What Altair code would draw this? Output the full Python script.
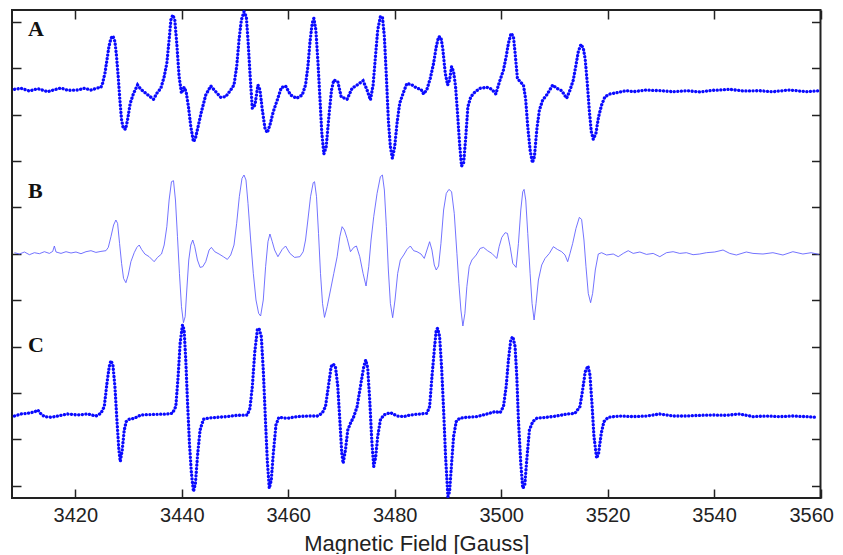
import altair as alt
import pandas as pd

# ---- data (field in Gauss, signal in arbitrary units relative to each baseline)
A_FIELD = [3408.56, 3409.81, 3411.37, 3412.94, 3414.81, 3416.37, 3417.31, 3418.56, 3420.44, 3421.69, 3422.94, 3424.19, 3424.81,
           3425.12, 3425.56, 3425.94, 3426.31, 3426.69, 3427.06, 3427.44, 3427.75, 3428.06, 3428.37, 3428.69, 3429.0, 3429.44,
           3429.81, 3430.31, 3430.94, 3431.69, 3432.31, 3433.25, 3434.06, 3434.69, 3435.31, 3436.06, 3436.69, 3437.19, 3437.62,
           3437.94, 3438.31, 3438.69, 3439.06, 3439.5, 3439.94, 3440.44, 3440.81, 3441.25, 3441.69, 3442.19, 3442.56, 3443.06,
           3443.69, 3444.5, 3445.44, 3446.38, 3447.31, 3448.25, 3449.19, 3449.81, 3450.31, 3450.75, 3451.19, 3451.69, 3452.13,
           3452.44, 3452.81, 3453.25, 3453.75, 3454.31, 3454.69, 3455.13, 3455.63, 3456.06, 3456.56, 3457.19, 3457.94, 3458.69,
           3459.5, 3460.44, 3461.56, 3462.63, 3463.25, 3463.69, 3464.06, 3464.5, 3464.81, 3465.19, 3465.56, 3465.94, 3466.31,
           3466.69, 3467.13, 3467.63, 3468.13, 3468.56, 3469.31, 3469.94, 3471.06, 3472.0, 3472.94, 3474.06, 3474.81, 3475.44,
           3475.94, 3476.38, 3476.81, 3477.31, 3477.69, 3478.06, 3478.44, 3478.81, 3479.19, 3479.56, 3480.0, 3480.44, 3480.94,
           3481.69, 3482.31, 3483.25, 3484.19, 3484.94, 3485.44, 3486.06, 3486.69, 3487.31, 3487.81, 3488.25, 3488.69, 3489.06,
           3489.5, 3489.94, 3490.31, 3490.69, 3491.06, 3491.44, 3491.81, 3492.19, 3492.56, 3492.94, 3493.31, 3493.75, 3494.31,
           3495.12, 3496.06, 3497.31, 3498.25, 3499.0, 3499.69, 3500.44, 3500.94, 3501.37, 3501.87, 3502.31, 3502.69, 3503.06,
           3503.56, 3504.19, 3504.62, 3505.0, 3505.44, 3505.87, 3506.25, 3506.69, 3507.19, 3507.81, 3508.56, 3509.69, 3510.44,
           3511.37, 3512.31, 3512.94, 3513.56, 3514.06, 3514.5, 3515.0, 3515.44, 3515.81, 3516.19, 3516.56, 3516.94, 3517.31,
           3517.81, 3518.31, 3518.87, 3519.5, 3520.44, 3521.69, 3523.56, 3524.81, 3527.31, 3529.81, 3532.31, 3534.81, 3537.31,
           3539.81, 3542.94, 3545.44, 3548.56, 3551.06, 3554.19, 3557.31, 3559.69]
A_SIGNAL = [0.7, 1.7, -1, 1.3, -1.7, 0.7, 2, -0.3, 0, 1.7, 0, 2, 2.7,
            6.7, 16.7, 30, 43.3, 51.7, 54, 48.3, 33.3, 13.3, -10, -30, -38.3, -39.3,
            -30, -13.3, -3.3, 5, 0.7, -3.3, -6.7, -9.3, -3.3, 1.7, 13.3, 26.7, 50,
            70, 75, 70, 46.7, 13.3, -3.3, 2.7, -1.7, -16.7, -36.7, -51.7, -48.3, -36.7,
            -21.7, -5, 4, -1.7, -7.3, -6.7, 0, 5, 23.3, 50, 70, 78.3, 73.3,
            50, 16.7, -18.3, -15, 5, 0, -20, -38.3, -42.7, -35, -21.7, -10, 2.3,
            4, -5, -8.3, -5, 5, 23.3, 46.7, 66.7, 71.7, 60, 30, -6.7, -43.3,
            -64, -56.7, -26.7, 0, 10, 8.3, -6.7, -9.3, 1.7, 5, 9.3, 0, -10,
            5, 33.3, 60, 73.3, 73.3, 53.3, 13.3, -30, -56.7, -68.3, -56.7, -33.3, -13.3,
            -1.7, 6.7, 5, 1.7, 0.7, -4, 0.7, 11.7, 26.7, 43.3, 53.3, 52.7, 40,
            16.7, 5, 10, 23.3, 18.3, 3.3, -23.3, -53.3, -76, -73.3, -50, -16.7, -6.7,
            -1.7, 1.7, 2.7, 0.7, -4, 8.3, 20, 33.3, 46.7, 56.7, 53.3, 33.3, 11.7,
            8.3, 5, -10, -36.7, -60, -72.7, -66.7, -40, -20, -10, -5, 5, 1.7,
            -0.7, -8.3, 0, 10, 25, 38.3, 45.7, 41.7, 30, 6.7, -20, -41.7, -49.3,
            -43.3, -26.7, -15, -6.7, -4, -2.7, -0.7, -1.7, 0, -0.7, -1.7, -0.7, -2,
            -0.3, 0.7, -1, -0.7, -1.7, 0, -1.7, -0.7]

B_FIELD = [3408.56, 3409.5, 3410.44, 3411.37, 3412.31, 3413.25, 3414.19, 3415.12, 3415.75, 3416.06, 3416.37, 3417.31, 3418.25,
           3419.19, 3420.12, 3421.06, 3422.0, 3422.94, 3423.87, 3424.81, 3425.75, 3426.19, 3426.69, 3427.19, 3427.62, 3427.94,
           3428.31, 3428.69, 3429.06, 3429.5, 3429.94, 3430.44, 3431.06, 3431.56, 3432.0, 3432.44, 3433.06, 3433.87, 3434.81,
           3435.44, 3436.19, 3436.69, 3437.19, 3437.62, 3438.06, 3438.44, 3438.81, 3439.19, 3439.56, 3439.94, 3440.31, 3440.63,
           3440.94, 3441.31, 3441.69, 3442.06, 3442.44, 3442.94, 3443.44, 3443.94, 3444.5, 3445.13, 3445.56, 3446.19, 3447.0,
           3447.81, 3448.56, 3449.19, 3449.81, 3450.31, 3450.81, 3451.31, 3451.69, 3452.06, 3452.44, 3452.94, 3453.44, 3453.94,
           3454.44, 3454.81, 3455.31, 3455.75, 3456.19, 3456.56, 3457.0, 3457.44, 3458.06, 3458.87, 3459.5, 3460.31, 3461.19,
           3462.19, 3462.81, 3463.25, 3463.69, 3464.19, 3464.69, 3464.94, 3465.31, 3465.69, 3466.06, 3466.44, 3466.81, 3467.31,
           3467.94, 3468.56, 3469.19, 3469.69, 3470.12, 3470.56, 3471.06, 3471.69, 3472.31, 3472.81, 3473.44, 3474.06, 3474.62,
           3475.12, 3475.56, 3476.06, 3476.69, 3477.31, 3477.69, 3478.06, 3478.44, 3478.81, 3479.19, 3479.62, 3480.06, 3480.56,
           3481.06, 3481.69, 3482.31, 3482.94, 3483.56, 3484.19, 3484.94, 3485.56, 3486.06, 3486.56, 3487.0, 3487.44, 3487.81,
           3488.25, 3488.69, 3489.19, 3489.69, 3490.19, 3490.69, 3491.19, 3491.69, 3492.06, 3492.44, 3492.81, 3493.19, 3493.56,
           3494.0, 3494.5, 3495.31, 3496.06, 3496.69, 3497.44, 3498.25, 3499.19, 3499.62, 3500.12, 3500.75, 3501.19, 3501.69,
           3502.19, 3502.81, 3503.25, 3503.69, 3504.06, 3504.31, 3504.62, 3505.0, 3505.44, 3505.81, 3506.19, 3506.56, 3507.0,
           3507.62, 3508.25, 3509.06, 3509.81, 3510.56, 3511.37, 3512.0, 3512.5, 3512.94, 3513.44, 3514.06, 3514.69, 3515.12,
           3515.56, 3515.94, 3516.37, 3516.81, 3517.19, 3517.69, 3518.25, 3518.87, 3519.81, 3521.06, 3522.0, 3522.94, 3523.87,
           3524.81, 3526.06, 3527.31, 3528.56, 3529.81, 3531.06, 3532.31, 3533.56, 3534.81, 3536.06, 3537.31, 3538.56, 3540.12,
           3541.69, 3542.94, 3544.19, 3546.06, 3547.31, 3549.19, 3551.06, 3552.94, 3554.81, 3556.69, 3558.25, 3559.69]
B_SIGNAL = [0, -1.3, 0.7, -2, 0, -1, 1, -0.7, 1.3, 6.7, 0.7, -0.7, 1,
            -0.3, 0.7, -1, 1, 2, 0.3, 1.3, 2, 5.3, 16, 27.7, 32.7, 29.3,
            9.3, -10.7, -25.7, -30, -22.3, -9, 0, 5.3, 7.7, 3.3, -1.3, -4, -9,
            -4.7, -1.3, 7.7, 26, 52.7, 71, 72, 52.7, 16, -20.7, -54, -70, -64,
            -37.3, -7.3, 7.7, 12.7, 6, -7.3, -14.7, -14, -9, 2.7, 5.3, 1, -1.3,
            -4, -6.7, -2.3, 7.7, 29.3, 56, 74.3, 77.7, 72.7, 49.3, 12.7, -20.7, -47.3,
            -60.7, -63.3, -47.3, -14, 11, 18.7, 11, 2.7, -4, 3.3, 6.7, -0.7, -4.7,
            -4, 1, 12.7, 32.7, 56, 70, 71, 56, 19.3, -20.7, -50.7, -64.7, -54,
            -37.3, -20.7, -4, 16, 26, 22.7, 14.3, 1, 5.3, 6.7, -4, -20.7, -33.3,
            -14, 12.7, 36, 59.3, 76, 77.7, 62.7, 26, -17.3, -50.7, -65, -47.3, -20.7,
            -7.3, -2.3, 3.3, 6.7, 2, 1, -1.3, -5.7, 2.7, 11, 2.7, -12.3, -17.3,
            -13.3, 9.3, 42.7, 59.3, 63.3, 61, 39.3, -0.7, -30.7, -57.3, -73.3, -60.7, -34,
            -14, -7.3, -2.3, 4.3, 5.3, 2, -0.7, -5.7, 6, 15.3, 20, 19.3, 6,
            -10.7, -14.7, 9.3, 42.7, 61, 63.3, 52.7, 19.3, -20.7, -50.7, -67.3, -50.7, -27.3,
            -12.3, -5.7, -0.7, 6, 3.3, 1, -2.3, -9, -0.7, 9.3, 24.3, 35.3, 33.3,
            12.7, -14, -40.7, -50, -40.7, -17.3, -1.3, 0, -2.3, -1.3, -4, -0.7, 2,
            -0.7, 0.7, -1.7, -0.7, -4, 0, 1, -0.7, 0, -2, -1.3, 0, 0.7,
            2.7, -0.7, -2.3, 0.7, -0.7, -1.3, 0, -2.3, 1, -1.3, 0, -1.7]

C_FIELD = [3408.56, 3409.81, 3411.06, 3412.31, 3412.94, 3413.56, 3414.19, 3415.44, 3416.69, 3418.56, 3420.44, 3422.31, 3423.87,
           3424.81, 3425.44, 3425.94, 3426.37, 3426.69, 3427.06, 3427.44, 3427.81, 3428.19, 3428.44, 3428.81, 3429.19, 3429.56,
           3430.12, 3431.06, 3432.31, 3433.56, 3435.44, 3437.31, 3438.25, 3438.87, 3439.31, 3439.69, 3440.13, 3440.44, 3440.75,
           3441.06, 3441.44, 3441.81, 3442.19, 3442.56, 3442.94, 3443.44, 3444.06, 3444.81, 3446.69, 3448.56, 3450.44, 3452.31,
           3452.81, 3453.25, 3453.69, 3454.19, 3454.5, 3454.94, 3455.31, 3455.69, 3456.06, 3456.44, 3456.81, 3457.19, 3457.69,
           3458.25, 3459.81, 3461.69, 3463.56, 3465.44, 3466.37, 3467.0, 3467.63, 3468.06, 3468.44, 3468.87, 3469.31, 3469.69,
           3470.06, 3470.31, 3470.75, 3471.19, 3471.69, 3472.31, 3472.94, 3473.56, 3474.19, 3474.56, 3474.94, 3475.31, 3475.69,
           3476.06, 3476.44, 3476.81, 3477.31, 3477.94, 3479.19, 3480.44, 3481.69, 3482.94, 3484.81, 3486.06, 3486.56, 3487.0,
           3487.44, 3487.81, 3488.06, 3488.44, 3488.81, 3489.19, 3489.56, 3490.0, 3490.31, 3490.69, 3491.06, 3491.56, 3492.19,
           3493.56, 3495.44, 3497.31, 3498.87, 3499.81, 3500.44, 3500.94, 3501.37, 3501.81, 3502.19, 3502.62, 3502.94, 3503.25,
           3503.69, 3504.06, 3504.44, 3504.81, 3505.31, 3505.94, 3506.69, 3508.56, 3510.44, 3512.31, 3513.87, 3514.81, 3515.31,
           3515.81, 3516.31, 3516.69, 3517.06, 3517.44, 3517.94, 3518.31, 3518.81, 3519.31, 3520.12, 3522.31, 3524.81, 3527.31,
           3529.81, 3532.31, 3534.81, 3537.31, 3539.81, 3542.31, 3544.81, 3547.31, 3549.81, 3552.31, 3554.81, 3557.31, 3559.5]
C_SIGNAL = [-0.7, 1.3, 2, 3.3, 5.3, 1.3, -1.3, -2, -0.7, 1.3, 0.3, 1.3, -0.7,
            2, 8.7, 32, 48.7, 54.7, 50.3, 28.7, -4.7, -34.7, -46.3, -34.7, -14.7, -6.3,
            -4, -3, 0.3, 0.7, 1, 1.3, 2, 8.7, 38.7, 72, 90.3, 85.3, 55.3,
            15.3, -28, -58, -76.3, -68, -41.3, -14.7, -4, -3, -2, -1.3, 0, 0.3,
            7, 28.7, 62, 85.3, 87, 78.7, 45.3, -1.3, -44.7, -73, -64.7, -38, -9.7,
            -2, -3, -1.3, -0.7, -0.7, 2, 8.7, 32, 48.7, 51.3, 48.7, 28.7, -4.7,
            -38, -48, -34.7, -14.7, -8, -1.3, 8.7, 28.7, 48.7, 55.3, 47, 15.3, -24.7,
            -51.3, -41.3, -21.3, -4.7, 0.3, 2.7, -0.7, -1.3, 0.3, 1.3, 2, 8.7, 38.7,
            65.3, 85.3, 87, 78.7, 48.7, 5.3, -41.3, -81.3, -76.3, -48, -21.3, -6.3, -3,
            -2, -1.3, 1.3, 3.7, 2.7, 8.7, 28.7, 55.3, 75.3, 78.7, 68.7, 38.7, -4.7,
            -48, -73, -69.7, -44.7, -14.7, -6.3, -3, -2, -0.7, 1.3, 2, 8.7, 25.3,
            43.7, 49.3, 40.3, 12, -21.3, -43, -38, -18, -6.3, -2, -0.7, -1.3, -0.7,
            1.3, -0.7, -0.7, 0, 0.3, 0, 1.3, -1.3, -0.7, -1.3, -0.7, -1.3, -2]

TRACE_NAMES = ["A", "B", "C"]
TRACE_OFFSETS = [408.0, 245.3, 82.7]          # vertical stacking offset of each spectrum
LABEL_FIELD = [3411.1, 3411.1, 3411.1]
LABEL_Y = [469.3, 307.5, 153.0]

X_TICKS = [3420, 3440, 3460, 3480, 3500, 3520, 3540, 3560]
Y_TICKS = [12.3, 58.7, 105.1, 151.5, 197.9, 244.3, 290.7, 337.1, 383.5, 429.9, 476.3]

X_DOMAIN = [3408.1, 3560]
Y_DOMAIN = [0, 488]


def frame(name, fields, signals, offset):
    return pd.DataFrame({"field": fields, "signal": signals, "trace": name, "offset": offset})


dotted_df = pd.concat([
    frame("A", A_FIELD, A_SIGNAL, TRACE_OFFSETS[0]),
    frame("C", C_FIELD, C_SIGNAL, TRACE_OFFSETS[2]),
])
line_df = frame("B", B_FIELD, B_SIGNAL, TRACE_OFFSETS[1])
label_df = pd.DataFrame({"field": LABEL_FIELD, "y": LABEL_Y, "label": TRACE_NAMES})

xscale = alt.Scale(domain=X_DOMAIN, nice=False, zero=False)
yscale = alt.Scale(domain=Y_DOMAIN, nice=False, zero=False)

FONT = "Liberation Sans"
INK = "#222222"

x_bottom = alt.Axis(orient="bottom", offset=-9, tickSize=9, tickWidth=1.5, tickColor=INK, domain=False, grid=False,
                    values=X_TICKS, format="d", labelFont=FONT, labelFontSize=20, labelColor=INK, labelPadding=7,
                    labelFlush=3, labelFlushOffset=13, labelOverlap=False,
                    title="Magnetic Field [Gauss]", titleFont=FONT, titleFontSize=22, titleFontWeight="normal",
                    titleColor=INK, titleBaseline="alphabetic", titleY=61)
y_left = alt.Axis(orient="left", offset=-9, tickSize=9, tickWidth=1.5, tickColor=INK, domain=False, grid=False,
                  values=Y_TICKS, labels=False, title=None)
x_top = alt.Axis(orient="top", offset=-9, tickSize=9, tickWidth=1.5, tickColor=INK, domain=False, grid=False,
                 values=X_TICKS, labels=False, title=None)
y_right = alt.Axis(orient="right", offset=-9, tickSize=9, tickWidth=1.5, tickColor=INK, domain=False, grid=False,
                   values=Y_TICKS, labels=False, title=None)

dotted = alt.Chart(dotted_df).transform_calculate(
    y="datum.signal + datum.offset"
).mark_line(
    color="#0a0aff", strokeWidth=3.3, strokeCap="round", strokeDash=[0.1, 3.5], clip=True
).encode(
    x=alt.X("field:Q", scale=xscale, axis=x_bottom),
    y=alt.Y("y:Q", scale=yscale, axis=y_left),
    detail="trace:N",
)

solid = alt.Chart(line_df).transform_calculate(
    y="datum.signal + datum.offset"
).mark_line(
    color="#5a5aff", strokeWidth=1, opacity=0.85, clip=True
).encode(
    x=alt.X("field:Q", scale=xscale, axis=None),
    y=alt.Y("y:Q", scale=yscale, axis=None),
)

labels = alt.Chart(label_df).mark_text(
    font="Liberation Serif", fontWeight="bold", fontSize=22, align="left", baseline="middle", color="#111111"
).encode(
    x=alt.X("field:Q", scale=xscale, axis=x_top),
    y=alt.Y("y:Q", scale=yscale, axis=y_right),
    text="label:N",
)

chart = alt.layer(dotted, solid, labels).resolve_axis(
    x="independent", y="independent"
).properties(
    width=808.5, height=488,
    padding={"left": 4, "top": 2, "right": 14, "bottom": 56},
    autosize=alt.AutoSizeParams(type="none"),
).configure_view(
    stroke=INK, strokeWidth=2
)

chart.save("out.html", embed_options={"renderer": "svg", "actions": False})
